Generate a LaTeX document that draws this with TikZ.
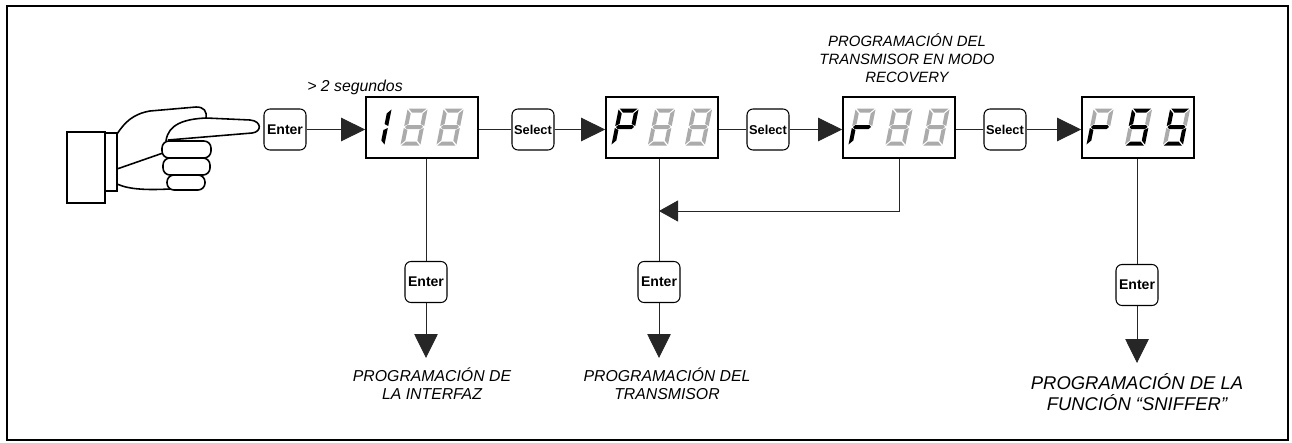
\documentclass[tikz,border=0pt]{standalone}
\usepackage{fontspec}
\setmainfont{Liberation Sans}
\usetikzlibrary{arrows.meta}

\tikzset{
  key/.style={draw, fill=white, rounded corners=0.12cm, line width=0.6pt,
    minimum width=0.84cm, minimum height=0.82cm, inner sep=0pt,
    font=\bfseries\fontsize{8}{9}\selectfont},
  selkey/.style={key, font=\bfseries\fontsize{7.3}{9}\selectfont},
  display/.style={draw, line width=1pt, minimum width=2.24cm, minimum height=1.22cm, inner sep=0pt},
  link/.style={line width=0.5pt, black!85},
  flow/.style={link, -{Triangle[length=0.48cm,width=0.47cm]}},
  back/.style={link, -{Triangle[length=0.38cm,width=0.42cm]}},
  note/.style={align=center, font=\itshape\fontsize{9}{10.3}\selectfont},
  segon/.style={fill=black},
  segoff/.style={fill=black!33},
  % seven segment pieces, digit centred on the origin
  seg a/.style={insert path={(-9,-18.5) -- (9,-18.5) -- (5,-14.5) -- (-5,-14.5) -- cycle}},
  seg b/.style={insert path={(10,-17.5) -- (6,-13.5) -- (6,-3) -- (10,-1) -- cycle}},
  seg c/.style={insert path={(10,1) -- (6,3) -- (6,13.5) -- (10,17.5) -- cycle}},
  seg d/.style={insert path={(-9,18.5) -- (9,18.5) -- (5,14.5) -- (-5,14.5) -- cycle}},
  seg e/.style={insert path={(-10,1) -- (-6,3) -- (-6,13.5) -- (-10,17.5) -- cycle}},
  seg f/.style={insert path={(-10,-17.5) -- (-6,-13.5) -- (-6,-3) -- (-10,-1) -- cycle}},
  seg g/.style={insert path={(-9,0) -- (-7,-2) -- (7,-2) -- (9,0) -- (7,2) -- (-7,2) -- cycle}},
  seg none/.style={},
  segment/.style={seg #1},
}

% #1 centre, #2 lit segments, #3 dark segments
\newcommand\segdigit[3]{%
  \begin{scope}[shift={#1}, xslant=0.2]
    \foreach \s in {#3} \fill[segoff, segment/.expanded=\s];
    \foreach \s in {#2} \fill[segon, segment/.expanded=\s];
  \end{scope}}

\begin{document}
\begin{tikzpicture}[x=0.02cm, y=-0.02cm]
\useasboundingbox (0,0) rectangle (1292,443);
\draw[line width=1.4pt] (7,6) rectangle (1288,440);

% hand
\begin{scope}[line width=0.9pt]
\draw (67,132) rectangle (105,203);
\draw[line width=1.3pt] (105,133) rectangle (117,191);
\draw (117,134) .. controls (125,122) and (133,114) .. (150,111) -- (196,107)
  .. controls (204,107) and (207,111) .. (206,118) -- (250,120)
  .. controls (262,121) and (262,132) .. (252,133) -- (168,140);
\draw (206,118) .. controls (185,119) and (168,124) .. (166,141);
\draw (117,169) -- (163,153);
\draw (117,184) .. controls (130,190) and (150,190) .. (170,189);
\draw[fill=white, rounded corners=4pt] (167,175) rectangle (205,190);
\draw[fill=white, rounded corners=4pt] (163,158) rectangle (210,175);
\draw[fill=white, rounded corners=4pt] (162,141) rectangle (211,158);
\end{scope}

\node[note] (hold) at (355,87) {> 2 segundos};

% top row
\node[key] (press) at (285,129.5) {Enter};
\node[display] (d1) at (422,127.5) {};
\node[selkey] (sel1) at (533,129.5) {Select};
\node[display] (d2) at (662,127.5) {};
\node[selkey] (sel2) at (768,129.5) {Select};
\node[display] (d3) at (899,127.5) {};
\node[selkey] (sel3) at (1005,129.5) {Select};
\node[display] (d4) at (1138,127.5) {};

\node[note, font=\itshape\fontsize{8.5}{10.3}\selectfont] (recov) at (907,58)
  {PROGRAMACIÓN DEL\\TRANSMISOR EN MODO\\RECOVERY};

% digits
\segdigit{(378,127)}{b,c}{none}
\segdigit{(414,127)}{none}{a,b,c,d,e,f,g}
\segdigit{(450,127)}{none}{a,b,c,d,e,f,g}
\segdigit{(625,127)}{a,b,e,f,g}{none}
\segdigit{(661.5,127)}{none}{a,b,c,d,e,f,g}
\segdigit{(698.5,127)}{none}{a,b,c,d,e,f,g}
\segdigit{(862,127)}{e,g}{a,b,f}
\segdigit{(899,127)}{none}{a,b,c,d,e,f,g}
\segdigit{(936,127)}{none}{a,b,c,d,e,f,g}
\segdigit{(1100,127)}{e,g}{a,b,f}
\segdigit{(1138.5,127)}{a,c,d,f,g}{b,e}
\segdigit{(1176.5,127)}{a,c,d,f,g}{b,e}

% lower row
\node[key] (entA) at (426,282) {Enter};
\node[key] (entB) at (659,282) {Enter};
\node[key] (entC) at (1137,285) {Enter};
\coordinate (endA) at (426,358);
\coordinate (endB) at (659,358);
\coordinate (endC) at (1137,363);
\coordinate (ret) at (659,211);

\node[note] (labA) at (432,384) {PROGRAMACIÓN DE\\LA INTERFAZ};
\node[note] (labB) at (667,384) {PROGRAMACIÓN DEL\\TRANSMISOR};
\node[note, font=\itshape\fontsize{10.5}{12}\selectfont] (labC) at (1137,392)
  {PROGRAMACIÓN DE LA\\FUNCIÓN “SNIFFER”};

% connectors
\draw[flow] (press) -- (press -| d1.west);
\draw[link] (d1.east |- sel1) -- (sel1);
\draw[flow] (sel1) -- (sel1 -| d2.west);
\draw[link] (d2.east |- sel2) -- (sel2);
\draw[flow] (sel2) -- (sel2 -| d3.west);
\draw[link] (d3.east |- sel3) -- (sel3);
\draw[flow] (sel3) -- (sel3 -| d4.west);

\draw[link] (d1.south -| entA) -- (entA);
\draw[flow] (entA) -- (endA);
\draw[link] (d2.south -| entB) -- (entB);
\draw[flow] (entB) -- (endB);
\draw[back] (d3.south) |- (ret);
\draw[link] (d4.south -| entC) -- (entC);
\draw[flow] (entC) -- (endC);
\end{tikzpicture}
\end{document}
